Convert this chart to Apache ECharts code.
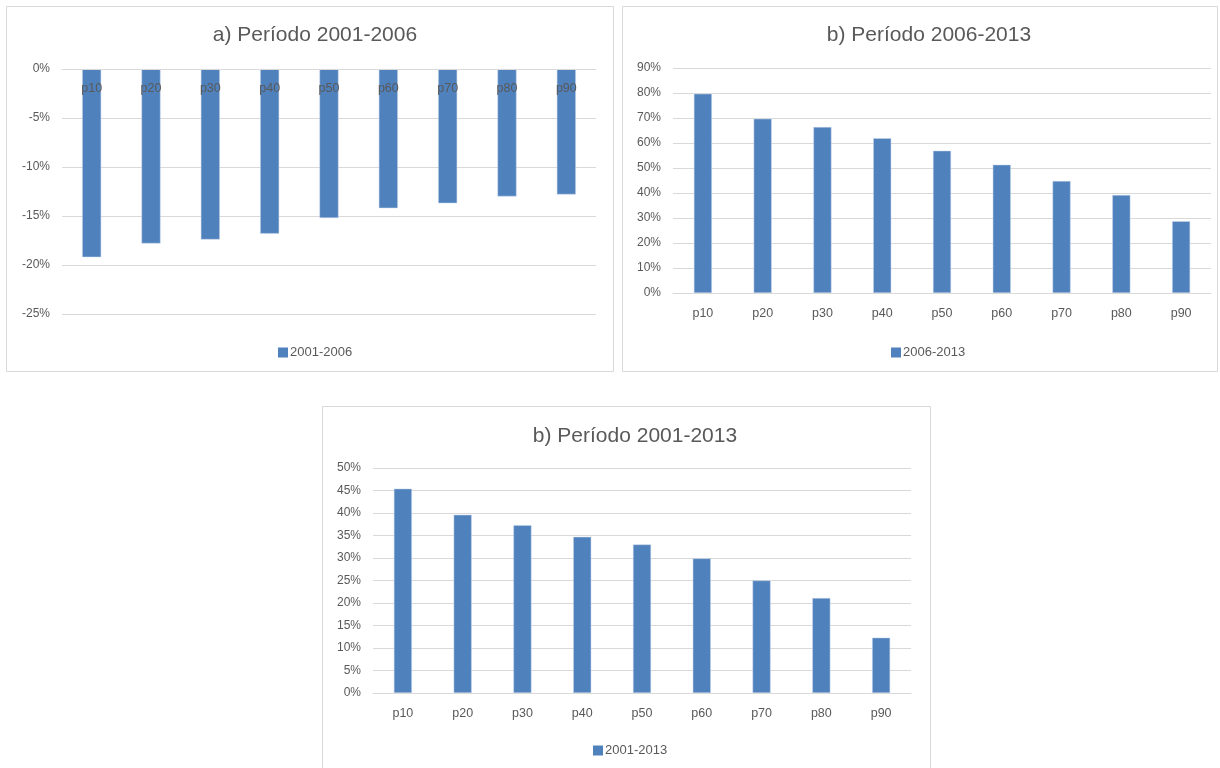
<!DOCTYPE html>
<html>
<head>
<meta charset="utf-8">
<script src="https://cdn.jsdelivr.net/npm/echarts@6/dist/echarts.min.js"></script>
<style>
html,body{margin:0;padding:0;background:#fff;}
#c{width:1220px;height:768px;}
</style>
</head>
<body>
<div id="c"></div>
<script>
const categories = ['p10','p20','p30','p40','p50','p60','p70','p80','p90'];
const titleA = 'a) Período 2001-2006';
const titleB = 'b) Período 2006-2013';
const titleC = 'b) Período 2001-2013';
const nameA = '2001-2006';
const nameB = '2006-2013';
const nameC = '2001-2013';
const valuesA = [-19.2, -17.8, -17.4, -16.8, -15.2, -14.2, -13.7, -13.0, -12.8];
const valuesB = [79.7, 69.7, 66.4, 61.9, 56.9, 51.3, 44.8, 39.2, 28.7];
const valuesC = [45.4, 39.6, 37.3, 34.7, 33.0, 29.9, 25.0, 21.1, 12.3];

const FONT = '"Liberation Sans", "DejaVu Sans", sans-serif';
const TXT = '#595959';
const GRIDC = '#d9d9d9';
const BAR = '#4f81bd';

const chart = echarts.init(document.getElementById('c'), null, {renderer:'canvas'});

function yAxis(gi, min, max, interval){
  return {
    type:'value', gridIndex:gi, min:min, max:max, interval:interval,
    axisLine:{show:false}, axisTick:{show:false},
    axisLabel:{formatter:v=>v+'%', color:TXT, fontFamily:FONT, fontSize:12, margin:12},
    splitLine:{lineStyle:{color:GRIDC, width:1}}
  };
}
function xAxis(gi, pos, inside, margin){
  return {
    type:'category', gridIndex:gi, data:categories, position:pos, z:10,
    axisLine:{onZero:false, lineStyle:{color:GRIDC}},
    axisTick:{show:false},
    axisLabel:{color:TXT, fontFamily:FONT, fontSize:12.5, margin:margin, inside:inside}
  };
}
function legend(name, x, y){
  return {
    data:[name], left:x, top:y, itemWidth:10, itemHeight:10, itemGap:4,
    icon:'rect', itemStyle:{borderWidth:0},
    textStyle:{color:TXT, fontFamily:FONT, fontSize:13, padding:[0,0,0,-3]}
  };
}
function title(text, x, y){
  return {
    text:text, left:x, top:y, textAlign:'center',
    textStyle:{color:TXT, fontFamily:FONT, fontSize:21, fontWeight:'normal'}
  };
}
function barSeries(name, data, xi, w){
  return {
    type:'bar', name:name, data:data, xAxisIndex:xi, yAxisIndex:xi,
    barWidth:w,
    itemStyle:{color:BAR, borderColor:'#c6d4ea', borderWidth:0.5},
    emphasis:{disabled:true}
  };
}

const option = {
  backgroundColor:'#fff',
  animation:false,
  graphic:[
    {type:'rect', shape:{x:6.5,y:6.5,width:607,height:365}, style:{fill:'none', stroke:GRIDC, lineWidth:1}},
    {type:'rect', shape:{x:622.5,y:6.5,width:595,height:365}, style:{fill:'none', stroke:GRIDC, lineWidth:1}},
    {type:'rect', shape:{x:322.5,y:406.5,width:608,height:370}, style:{fill:'none', stroke:GRIDC, lineWidth:1}}
  ],
  title:[ title(titleA, 310, 20), title(titleB, 924, 20), title(titleC, 630, 421) ],
  legend:[ legend(nameA, 273, 341), legend(nameB, 886, 341), legend(nameC, 588, 739) ],
  grid:[
    {left:62, right:624, top:69, bottom:454},
    {left:673, right:9, top:68, bottom:475},
    {left:373, right:309, top:468, bottom:75}
  ],
  xAxis:[ xAxis(0, 'top', true, 13), xAxis(1, 'bottom', false, 14), xAxis(2, 'bottom', false, 14) ],
  yAxis:[ yAxis(0, -25, 0, 5), yAxis(1, 0, 90, 10), yAxis(2, 0, 50, 5) ],
  series:[
    barSeries(nameA, valuesA, 0, 19),
    barSeries(nameB, valuesB, 1, 18),
    barSeries(nameC, valuesC, 2, 18)
  ]
};
chart.setOption(option);
</script>
</body>
</html>
